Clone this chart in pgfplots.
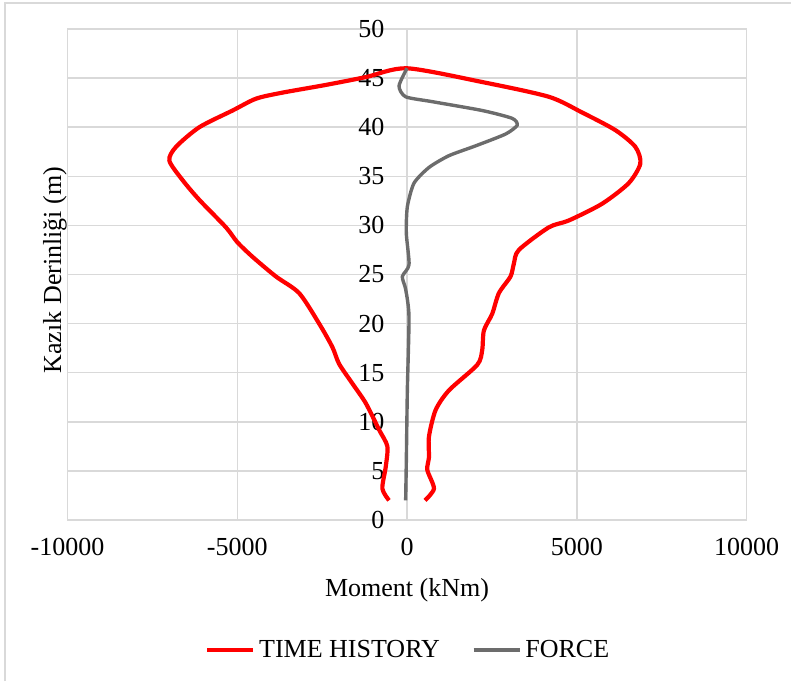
\documentclass[border=0pt]{standalone}
\usepackage{pgfplots}
\pgfplotsset{compat=1.18}
\usepackage{fontspec}
\setmainfont{Liberation Serif}
\definecolor{gridgray}{RGB}{217,217,217}
\definecolor{forcegray}{RGB}{108,108,108}
\begin{document}
\begin{tikzpicture}
\path[use as bounding box] (-33.75pt,-80.5pt) rectangle (361.75pt,260pt);
\draw[gridgray, line width=1pt] (-31pt,-80.5pt) -- (-31pt,258.5pt) -- (361.75pt,258.5pt);
\begin{axis}[
  at={(0,0)}, anchor=south west,
  width=339.5pt, height=245.5pt, scale only axis,
  xmin=-10000, xmax=10000, ymin=0, ymax=50,
  xtick={-10000,-5000,0,5000,10000},
  ytick={0,5,...,50},
  scaled ticks=false,
  grid=major,
  major grid style={gridgray, line width=0.75pt},
  axis line style={gridgray, line width=0.75pt},
  tick style={draw=none},
  /pgf/number format/assume math mode=true,
  /pgf/number format/1000 sep={},
  tick label style={font=\fontsize{13}{15}\selectfont, text=black},
  yticklabel style={xshift=162pt},
  xticklabel style={yshift=-5.5pt},
  xlabel={Moment (kNm)},
  ylabel={Kazık Derinliği (m)},
  label style={font=\fontsize{13}{15}\selectfont},
  xlabel style={at={(axis description cs:0.5,-0.1426)}, anchor=center},
  ylabel style={at={(axis description cs:-0.0184,0.509)}, anchor=center, rotate=0},
  legend style={at={(axis description cs:0.503,-0.265)}, anchor=center, draw=none,
    font=\fontsize{13}{15}\selectfont, legend columns=2,
    /tikz/every even column/.append style={column sep=14pt}},
  legend image code/.code={\draw[#1] (0pt,0pt) -- (23pt,0pt);},
  clip=false,
]
\addplot[red, line width=2.1pt, smooth, tension=0.45] coordinates {
(-529,2.0) (-726,3.2) (-627,5.4) (-579,7.5) (-824,9.2) (-1215,11.9) (-1609,13.9)
(-2000,15.9) (-2197,17.6) (-2588,20.0) (-3176,23.1) (-3862,24.8) (-4550,26.8)
(-5000,28.3) (-5332,29.8) (-6117,32.6) (-6608,34.6) (-7000,36.6) (-6803,38.0)
(-6117,40.0) (-5138,41.7) (-4450,42.9) (-3700,43.5) (-2400,44.3) (-1215,45.1) (0,46.0)
(2215,44.6) (4176,43.1) (5156,41.5) (6138,39.7) (6726,38.0) (6873,36.3)
(6529,34.3) (5744,32.2) (4765,30.5) (4176,29.8) (3294,27.5) (3147,26.1)
(3049,24.8) (2706,23.1) (2510,21.0) (2265,19.3) (2215,17.3) (2069,15.8)
(1235,13.2) (843,11.2) (647,8.5) (647,6.4) (598,5.1) (794,3.2) (529,2.0)
};
\addlegendentry{TIME HISTORY}
\addplot[forcegray, line width=1.7pt, smooth, tension=0.4] coordinates {
(-40,2.0) (-20,6) (10,13.2) (59,20.7) (-40,23.5) (-138,24.8) (60,26.0) (-20,29.2)
(10,31.9) (206,34.3) (647,35.9) (1235,37.1) (2020,38.1) (2902,39.3)
(3245,40.2) (3098,40.9) (2215,41.7) (745,42.6) (-40,43.1) (-235,44.2) (0,46.0)
};
\addlegendentry{FORCE}
\end{axis}
\end{tikzpicture}
\end{document}
